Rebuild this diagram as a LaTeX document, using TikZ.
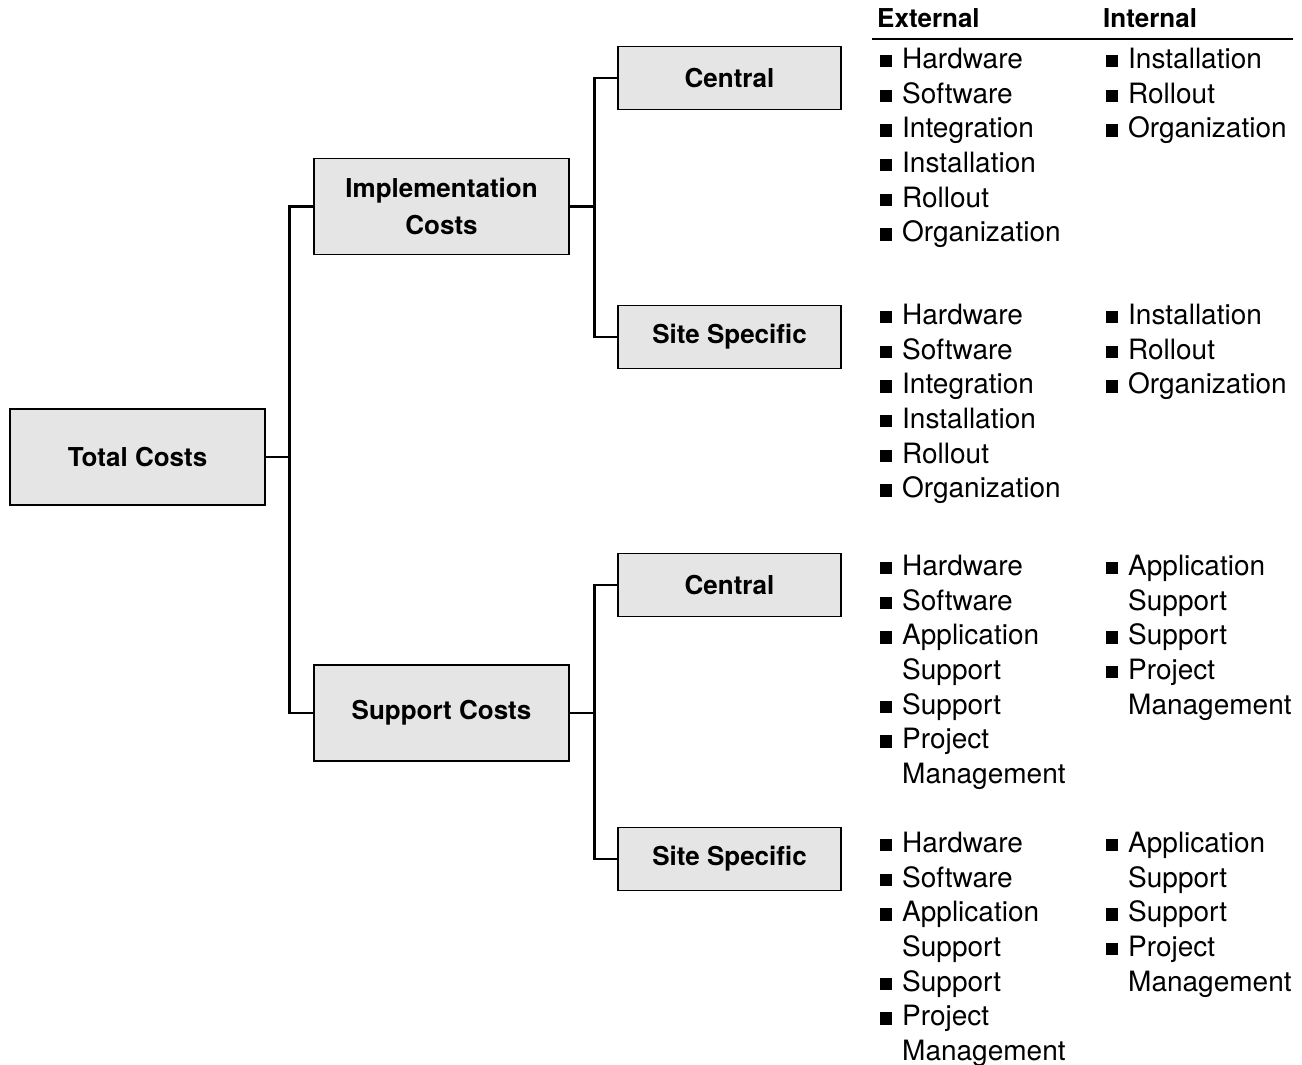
\documentclass[tikz,border=0pt]{standalone}
\usepackage{fontspec}
\setmainfont{TeX Gyre Heros}
\tikzset{
  costbox/.style={draw=black, fill=black!10, line width=1.2pt, inner sep=0pt,
    align=center, font=\fontsize{26}{37}\selectfont\bfseries},
  wide/.style={minimum width=255pt, minimum height=96pt},
  narrow/.style={minimum width=223pt, minimum height=63pt},
  tree/.style={line width=2.7pt},
  listtext/.style={anchor=base west, inner sep=0pt, font=\fontsize{28}{34.7}\selectfont},
  headtext/.style={anchor=base west, inner sep=0pt, font=\fontsize{26}{30}\selectfont\bfseries},
}
% bullet square hung to the left of an item
\newcommand\bul{\llap{\rule[1pt]{12.5pt}{12.5pt}\hspace{10pt}}}
% one column of items: name prefix, x, first baseline, entries (1 = bulleted, 0 = continuation)
\newcommand\costlist[4]{%
  \foreach \b/\t [count=\i] in {#4} {
    \node[listtext] (#1-\i) at (#2, #3 + \i*34.7 - 34.7) {\ifnum\b=1 \bul\fi\t};
  }}
\begin{document}
\begin{tikzpicture}[x=1pt, y=-1pt]
\useasboundingbox (0,0) rectangle (1302,1065);

% boxes
\node[costbox, wide]   (total) at (137.5, 457)  {Total Costs};
\node[costbox, wide]   (impl)  at (441.5, 206.5) {Implementation\\Costs};
\node[costbox, wide]   (supp)  at (441.5, 713)  {Support Costs};
\node[costbox, narrow] (ic)    at (729.5, 78)   {Central};
\node[costbox, narrow] (is)    at (729.5, 337)  {Site Specific};
\node[costbox, narrow] (sc)    at (729.5, 585)  {Central};
\node[costbox, narrow] (ss)    at (729.5, 859)  {Site Specific};

% tree connectors
\draw[tree] (total.east) -- ++(24,0) coordinate (j1);
\draw[tree] (impl.west) -| (j1) |- (supp.west);
\draw[tree] (impl.east) -- ++(25,0) coordinate (j2);
\draw[tree] (ic.west) -| (j2) |- (is.west);
\draw[tree] (supp.east) -- ++(25,0) coordinate (j3);
\draw[tree] (sc.west) -| (j3) |- (ss.west);

% column headings
\node[headtext] (hext) at (877, 28) {External};
\node[headtext] (hint) at (1103, 28) {Internal};
\draw[line width=2pt] (872, 39.5) -- (1293, 39.5);

% implementation, central
\costlist{ice}{902}{68.3}{1/Hardware, 1/Software, 1/Integration, 1/Installation, 1/Rollout, 1/Organization}
\costlist{ici}{1128}{68.3}{1/Installation, 1/Rollout, 1/Organization}
% implementation, site specific
\costlist{ise}{902}{324.3}{1/Hardware, 1/Software, 1/Integration, 1/Installation, 1/Rollout, 1/Organization}
\costlist{isi}{1128}{324.3}{1/Installation, 1/Rollout, 1/Organization}
% support, central
\costlist{sce}{902}{575.3}{1/Hardware, 1/Software, 1/Application, 0/Support, 1/Support, 1/Project, 0/Management}
\costlist{sci}{1128}{575.3}{1/Application, 0/Support, 1/Support, 1/Project, 0/Management}
% support, site specific
\costlist{sse}{902}{852.3}{1/Hardware, 1/Software, 1/Application, 0/Support, 1/Support, 1/Project, 0/Management}
\costlist{ssi}{1128}{852.3}{1/Application, 0/Support, 1/Support, 1/Project, 0/Management}
\end{tikzpicture}
\end{document}
